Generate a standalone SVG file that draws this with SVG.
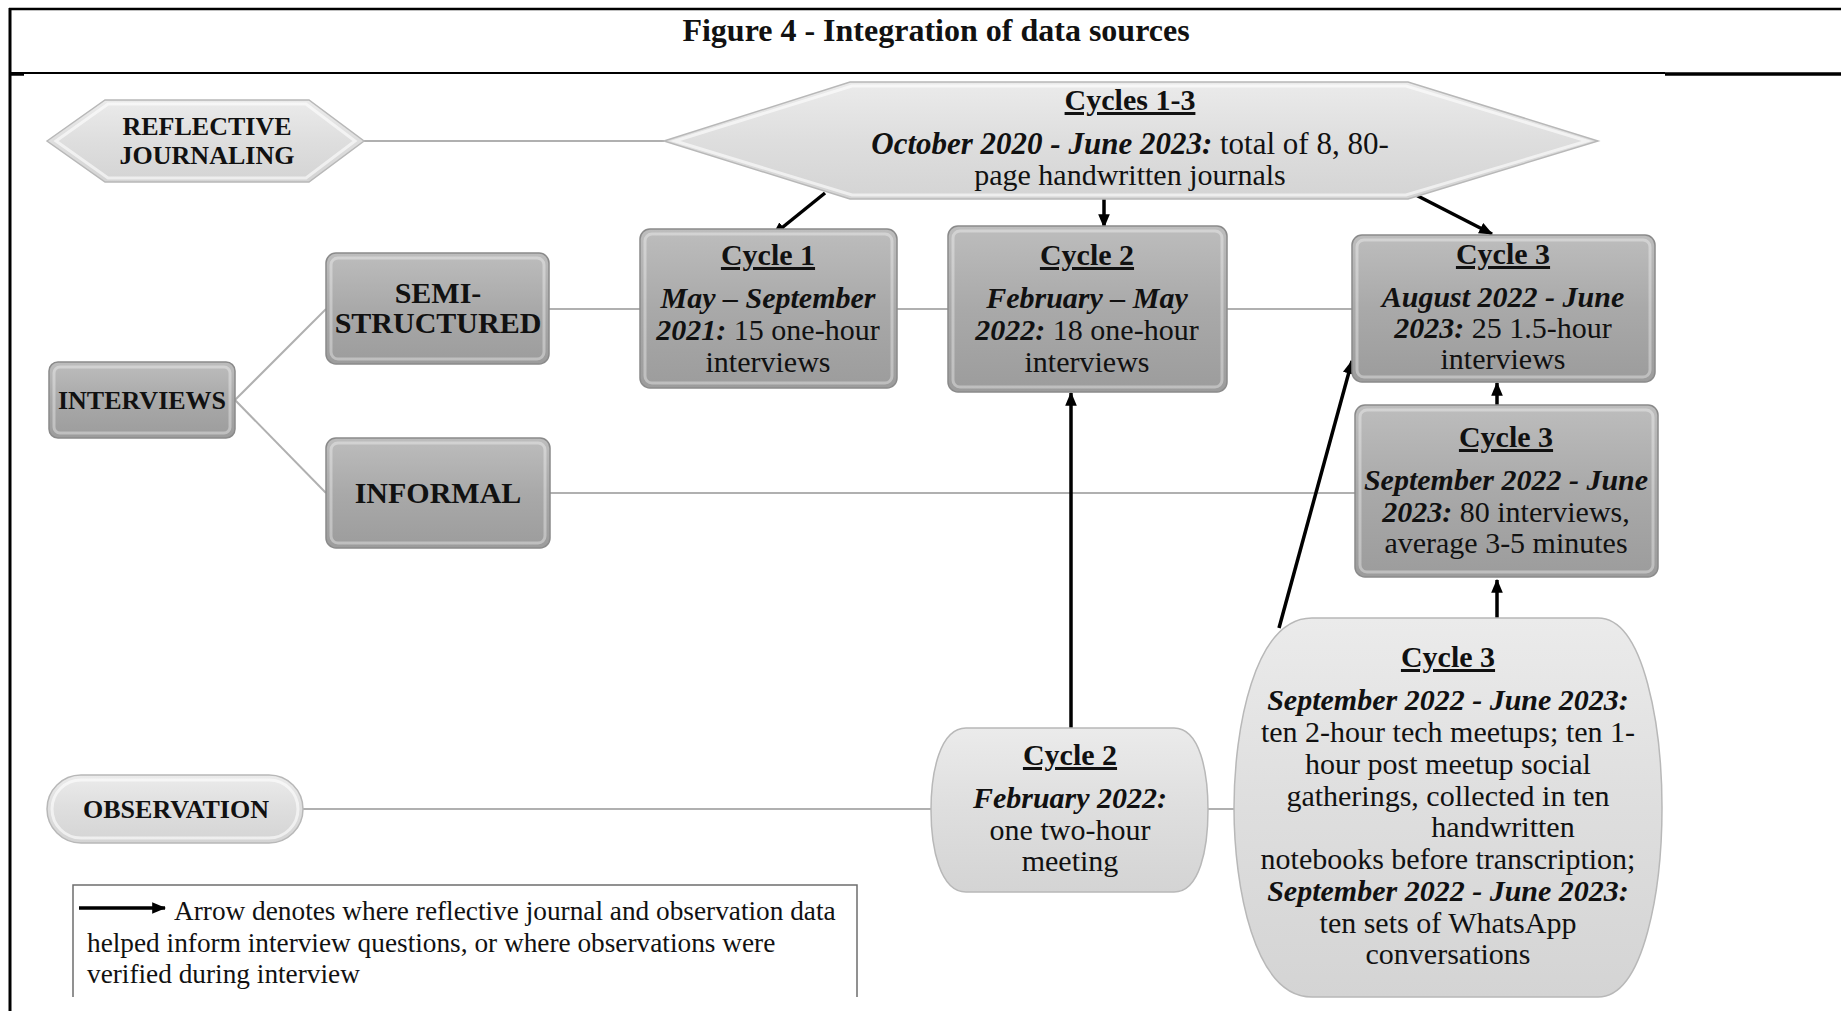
<svg xmlns="http://www.w3.org/2000/svg" width="1841" height="1011" viewBox="0 0 1841 1011">
<style>
.t{font-family:"Liberation Serif","Times New Roman",serif;fill:#111;font-size:30px;text-anchor:middle}
.cap{font-weight:bold;font-size:26px}
.b{font-weight:bold}
.bi{font-weight:bold;font-style:italic}
.u{font-weight:bold;text-decoration:underline}
.leg{font-family:"Liberation Serif","Times New Roman",serif;fill:#111;font-size:27.3px}
.dark{fill:url(#gDark);stroke:#8a8a8a;stroke-width:1.5}
.darkIn{fill:none;stroke:#ffffff;stroke-opacity:0.35;stroke-width:3}
.light{fill:url(#gLight);stroke:#b8b8b8;stroke-width:1.5}
.lightIn{fill:none;stroke:#ffffff;stroke-opacity:0.6;stroke-width:3}
.conn{stroke:#b0b0b0;stroke-width:2;fill:none}
.arr{stroke:#000;stroke-width:3.5;fill:none;marker-end:url(#ah)}
.frame{stroke:#000;fill:none}
</style>
<defs>
<linearGradient id="gDark" x1="0" y1="0" x2="0" y2="1">
<stop offset="0" stop-color="#bdbdbd"/>
<stop offset="0.5" stop-color="#a9a9a9"/>
<stop offset="1" stop-color="#9c9c9c"/>
</linearGradient>
<linearGradient id="gLight" x1="0" y1="0" x2="0" y2="1">
<stop offset="0" stop-color="#ebebeb"/>
<stop offset="0.5" stop-color="#dedede"/>
<stop offset="1" stop-color="#d4d4d4"/>
</linearGradient>
<marker id="ah" markerUnits="userSpaceOnUse" viewBox="0 0 12 10" markerWidth="14" markerHeight="12" refX="11" refY="5" orient="auto">
<path d="M0,0 L12,5 L0,10 Z" fill="#000"/>
</marker>
</defs>

<g id="frame">
<line class="frame" x1="9" y1="9" x2="1841" y2="9" stroke-width="2.5"/>
<line class="frame" x1="10" y1="8" x2="10" y2="1011" stroke-width="3"/>
<line class="frame" x1="10" y1="73" x2="1665" y2="73" stroke-width="2"/>
<line class="frame" x1="1665" y1="74" x2="1841" y2="74" stroke-width="3.5"/>
<line class="frame" x1="10" y1="74.5" x2="24" y2="74.5" stroke-width="2.5"/>
<text class="t b" x="936" y="41" style="font-size:32px">Figure 4 - Integration of data sources</text>
</g>

<g id="connectors">
<line class="conn" x1="364" y1="141" x2="664" y2="141"/>
<line class="conn" x1="235" y1="400" x2="326" y2="309"/>
<line class="conn" x1="235" y1="400" x2="326" y2="493"/>
<line class="conn" x1="549" y1="309" x2="640" y2="309"/>
<line class="conn" x1="897" y1="309" x2="948" y2="309"/>
<line class="conn" x1="1227" y1="309" x2="1352" y2="309"/>
<line class="conn" x1="550" y1="493" x2="1355" y2="493"/>
<line class="conn" x1="303" y1="809" x2="931" y2="809"/>
<line class="conn" x1="1208" y1="809" x2="1234" y2="809"/>
<line class="arr" x1="825" y1="193" x2="773" y2="235"/>
<line class="arr" x1="1104" y1="193" x2="1104" y2="227"/>
<line class="arr" x1="1412" y1="193" x2="1492" y2="234"/>
<line class="arr" x1="1071" y1="735" x2="1071" y2="393"/>
<line class="arr" x1="1279" y1="628" x2="1352" y2="361"/>
<line class="arr" x1="1497" y1="405" x2="1497" y2="383"/>
<line class="arr" x1="1497" y1="618" x2="1497" y2="580"/>
</g>

<g id="reflective-journaling">
<polygon class="light" points="47,141 105,100 309,100 364,141 309,182 105,182"/>
<polygon class="lightIn" points="56,141 108,104 306,104 355,141 306,178 108,178"/>
<text class="t cap" x="207" y="135">REFLECTIVE</text>
<text class="t cap" x="207" y="164">JOURNALING</text>
</g>

<g id="cycles-1-3">
<polygon class="light" points="664,141 850,82 1408,82 1598,141 1408,199 850,199"/>
<polygon class="lightIn" points="675,141 852,86 1406,86 1587,141 1406,195 852,195"/>
<text class="t u" x="1130" y="110">Cycles 1-3</text>
<text class="t" x="1130" y="154" style="font-size:31px"><tspan class="bi">October 2020 - June 2023:</tspan> total of 8, 80-</text>
<text class="t" x="1130" y="185">page handwritten journals</text>
</g>

<g id="interviews">
<rect class="dark" x="49" y="362" width="186" height="76" rx="9"/>
<rect class="darkIn" x="54" y="367" width="176" height="66" rx="6"/>
<text class="t cap" x="142" y="409">INTERVIEWS</text>
</g>

<g id="semi-structured">
<rect class="dark" x="326" y="253" width="223" height="111" rx="10"/>
<rect class="darkIn" x="331" y="258" width="213" height="101" rx="7"/>
<text class="t b" x="438" y="303">SEMI-</text>
<text class="t b" x="438" y="333">STRUCTURED</text>
</g>

<g id="informal">
<rect class="dark" x="326" y="438" width="224" height="110" rx="10"/>
<rect class="darkIn" x="331" y="443" width="214" height="100" rx="7"/>
<text class="t b" x="438" y="503">INFORMAL</text>
</g>

<g id="cycle1-interviews">
<rect class="dark" x="640" y="229" width="257" height="159" rx="10"/>
<rect class="darkIn" x="645" y="234" width="247" height="149" rx="7"/>
<text class="t u" x="768" y="265">Cycle 1</text>
<text class="t bi" x="768" y="308">May – September</text>
<text class="t" x="768" y="340"><tspan class="bi">2021:</tspan> 15 one-hour</text>
<text class="t" x="768" y="372">interviews</text>
</g>

<g id="cycle2-interviews">
<rect class="dark" x="948" y="226" width="279" height="166" rx="10"/>
<rect class="darkIn" x="953" y="231" width="269" height="156" rx="7"/>
<text class="t u" x="1087" y="265">Cycle 2</text>
<text class="t bi" x="1087" y="308">February – May</text>
<text class="t" x="1087" y="340"><tspan class="bi">2022:</tspan> 18 one-hour</text>
<text class="t" x="1087" y="372">interviews</text>
</g>

<g id="cycle3-semi">
<rect class="dark" x="1352" y="235" width="303" height="147" rx="10"/>
<rect class="darkIn" x="1357" y="240" width="293" height="137" rx="7"/>
<text class="t u" x="1503" y="264">Cycle 3</text>
<text class="t bi" x="1503" y="307">August 2022 - June</text>
<text class="t" x="1503" y="338"><tspan class="bi">2023:</tspan> 25 1.5-hour</text>
<text class="t" x="1503" y="369">interviews</text>
</g>

<g id="cycle3-informal">
<rect class="dark" x="1355" y="405" width="303" height="172" rx="10"/>
<rect class="darkIn" x="1360" y="410" width="293" height="162" rx="7"/>
<text class="t u" x="1506" y="447">Cycle 3</text>
<text class="t bi" x="1506" y="490">September 2022 - June</text>
<text class="t" x="1506" y="522"><tspan class="bi">2023:</tspan> 80 interviews,</text>
<text class="t" x="1506" y="553">average 3-5 minutes</text>
</g>

<g id="observation">
<rect class="light" x="47" y="775" width="256" height="68" rx="34"/>
<rect class="lightIn" x="52" y="780" width="246" height="58" rx="29"/>
<text class="t cap" x="176" y="818">OBSERVATION</text>
</g>

<g id="cycle2-observation">
<path class="light" d="M966,728 H1174 C1200,728 1208,772 1208,810 C1208,848 1200,892 1174,892 H966 C940,892 931,848 931,810 C931,772 940,728 966,728 Z"/>
<text class="t u" x="1070" y="765">Cycle 2</text>
<text class="t bi" x="1070" y="808">February 2022:</text>
<text class="t" x="1070" y="840">one two-hour</text>
<text class="t" x="1070" y="871">meeting</text>
</g>

<g id="cycle3-observation">
<path class="light" d="M1312,618 H1598 C1645,618 1662,730 1662,808 C1662,886 1645,997 1598,997 H1312 C1254,997 1234,886 1234,808 C1234,730 1254,618 1312,618 Z"/>
<text class="t u" x="1448" y="667">Cycle 3</text>
<text class="t bi" x="1448" y="710">September 2022 - June 2023:</text>
<text class="t" x="1448" y="742">ten 2-hour tech meetups; ten 1-</text>
<text class="t" x="1448" y="774">hour post meetup social</text>
<text class="t" x="1448" y="806">gatherings, collected in ten</text>
<text class="t" x="1503" y="837">handwritten</text>
<text class="t" x="1448" y="869">notebooks before transcription;</text>
<text class="t bi" x="1448" y="901">September 2022 - June 2023:</text>
<text class="t" x="1448" y="933">ten sets of WhatsApp</text>
<text class="t" x="1448" y="964">conversations</text>
</g>

<g id="legend">
<path d="M73,997 V885 H857 V997" fill="none" stroke="#6e6e6e" stroke-width="1.5"/>
<line class="arr" x1="79" y1="908" x2="165" y2="908"/>
<text class="leg" x="174" y="920">Arrow denotes where reflective journal and observation data</text>
<text class="leg" x="87" y="952">helped inform interview questions, or where observations were</text>
<text class="leg" x="87" y="983">verified during interview</text>
</g>
</svg>
